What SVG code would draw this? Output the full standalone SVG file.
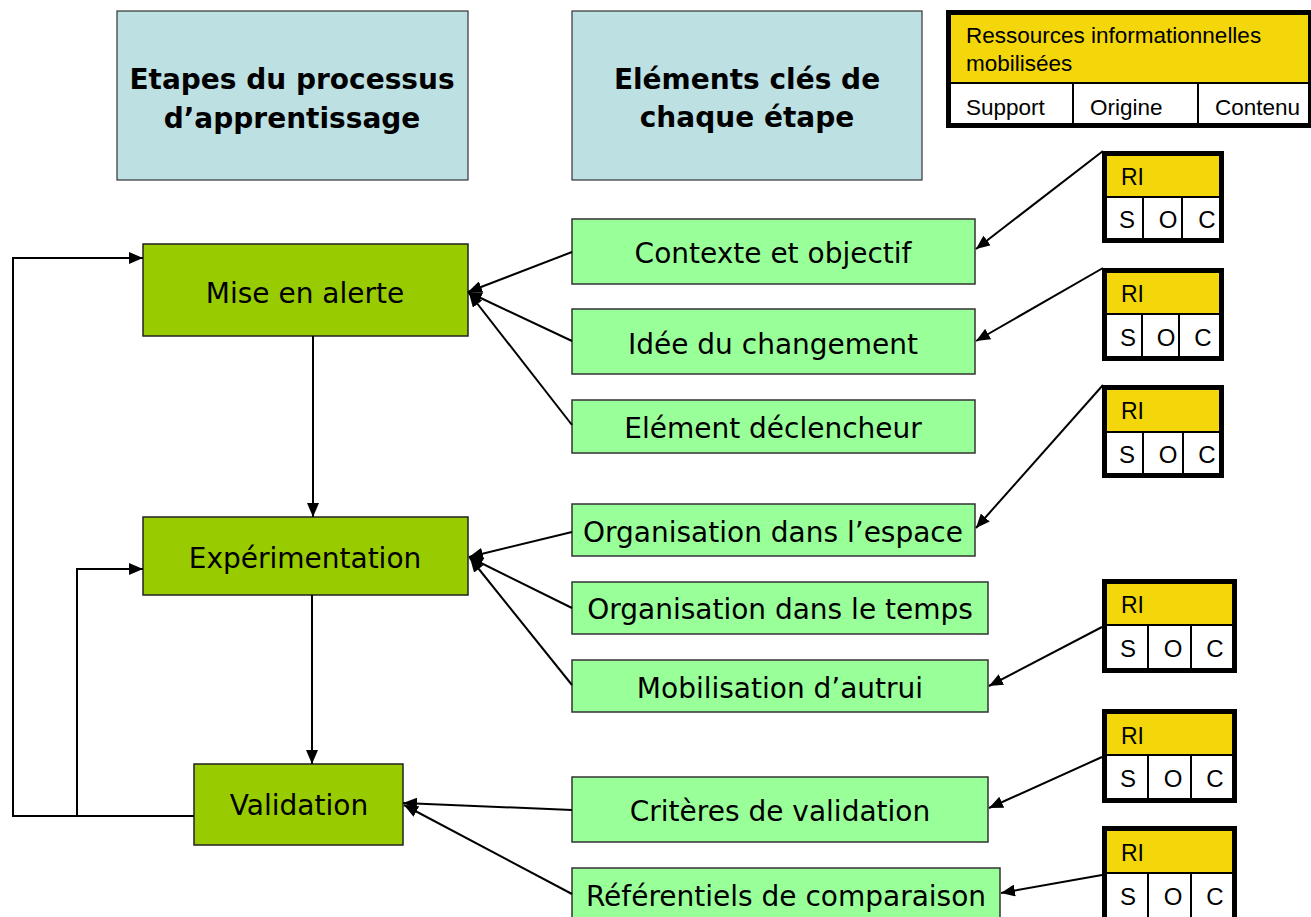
<svg xmlns="http://www.w3.org/2000/svg" width="1311" height="917" viewBox="0 0 1311 917">
<style>
.hdr{fill:#BDE0E3;stroke:#333;stroke-width:1.2}
.hdrt{font-family:"DejaVu Sans",sans-serif;font-weight:bold;font-size:28px;fill:#000;text-anchor:middle}
.stage{fill:#99CC00;stroke:#222;stroke-width:1.5}
.key{fill:#99FF99;stroke:#333;stroke-width:1.5}
.t{font-family:"DejaVu Sans",sans-serif;font-size:28px;fill:#000;text-anchor:middle}
.yl{fill:#F4D70A}
.cell{fill:#fff;stroke:#000;stroke-width:2}
.frame{fill:none;stroke:#000;stroke-width:5}
.lt{font-family:"Liberation Sans",Arial,sans-serif;font-size:22.5px;fill:#000}
.ri{font-family:"Liberation Sans",Arial,sans-serif;font-size:23px;fill:#000}
.ric{font-family:"Liberation Sans",Arial,sans-serif;font-size:24px;fill:#000;text-anchor:middle}
.c{fill:none;stroke:#000;stroke-width:2}
</style>
<defs>
<marker id="ah" viewBox="0 0 14 12" refX="14" refY="6" markerWidth="14" markerHeight="12" markerUnits="userSpaceOnUse" orient="auto">
<path d="M0,0 L14,6 L0,12 Z" fill="#000"/>
</marker>
</defs>
<rect width="1311" height="917" fill="#fff"/>

<g id="header1"><rect class="hdr" x="117" y="11" width="351" height="169"/>
<text class="hdrt" x="292" y="89">Etapes du processus</text>
<text class="hdrt" x="292" y="128">d’apprentissage</text></g>
<g id="header2"><rect class="hdr" x="572" y="11" width="350" height="169"/>
<text class="hdrt" x="747" y="89">Eléments clés de</text>
<text class="hdrt" x="747" y="127">chaque étape</text></g>

<g id="legend">
<rect class="yl" x="948" y="12" width="361" height="71"/>
<rect class="cell" x="948" y="83" width="125" height="42"/>
<rect class="cell" x="1073" y="83" width="125" height="42"/>
<rect class="cell" x="1198" y="83" width="111" height="42"/>
<rect class="frame" x="948.5" y="12.5" width="362" height="113"/>
<text class="lt" x="966" y="43">Ressources informationnelles</text>
<text class="lt" x="966" y="71">mobilisées</text>
<text class="lt" x="966" y="115">Support</text>
<text class="lt" x="1090" y="115">Origine</text>
<text class="lt" x="1215" y="115">Contenu</text>
</g>

<g id="stage-alerte"><rect class="stage" x="143" y="244" width="325" height="92"/><text class="t" x="305" y="303">Mise en alerte</text></g>
<g id="stage-exp"><rect class="stage" x="143" y="517" width="325" height="78"/><text class="t" x="305" y="568">Expérimentation</text></g>
<g id="stage-valid"><rect class="stage" x="194" y="764" width="209" height="81"/><text class="t" x="299" y="815">Validation</text></g>

<g id="key1"><rect class="key" x="572" y="219" width="403" height="65"/><text class="t" x="773" y="263">Contexte et objectif</text></g>
<g id="key2"><rect class="key" x="572" y="309" width="403" height="65"/><text class="t" x="773" y="354">Idée du changement</text></g>
<g id="key3"><rect class="key" x="572" y="400" width="403" height="53"/><text class="t" x="773" y="438">Elément déclencheur</text></g>
<g id="key4"><rect class="key" x="572" y="504" width="403" height="52"/><text class="t" x="773" y="542">Organisation dans l’espace</text></g>
<g id="key5"><rect class="key" x="572" y="582" width="416" height="52"/><text class="t" x="780" y="619">Organisation dans le temps</text></g>
<g id="key6"><rect class="key" x="572" y="660" width="416" height="52"/><text class="t" x="780" y="698">Mobilisation d’autrui</text></g>
<g id="key7"><rect class="key" x="572" y="777" width="416" height="65"/><text class="t" x="780" y="821">Critères de validation</text></g>
<g id="key8"><rect class="key" x="572" y="868" width="428" height="55"/><text class="t" x="786" y="906">Référentiels de comparaison</text></g>

<g id="ri1">
<rect class="yl" x="1105" y="154" width="117" height="43"/>
<rect class="cell" x="1105" y="197" width="38" height="43"/><rect class="cell" x="1143" y="197" width="39" height="43"/><rect class="cell" x="1182" y="197" width="40" height="43"/>
<rect class="frame" x="1104.5" y="153.5" width="117" height="87"/>
<text class="ri" x="1121" y="185">RI</text>
<text class="ric" x="1127" y="228">S</text><text class="ric" x="1168" y="228">O</text><text class="ric" x="1207" y="228">C</text>
</g>
<g id="ri2">
<rect class="yl" x="1105" y="271" width="117" height="43"/>
<rect class="cell" x="1105" y="314" width="37" height="44"/><rect class="cell" x="1142" y="314" width="37" height="44"/><rect class="cell" x="1179" y="314" width="43" height="44"/>
<rect class="frame" x="1104.5" y="270.5" width="117" height="88"/>
<text class="ri" x="1121" y="302">RI</text>
<text class="ric" x="1128" y="346">S</text><text class="ric" x="1166" y="346">O</text><text class="ric" x="1203" y="346">C</text>
</g>
<g id="ri3">
<rect class="yl" x="1105" y="388" width="117" height="44"/>
<rect class="cell" x="1105" y="432" width="38" height="43"/><rect class="cell" x="1143" y="432" width="40" height="43"/><rect class="cell" x="1183" y="432" width="39" height="43"/>
<rect class="frame" x="1104.5" y="387.5" width="117" height="88"/>
<text class="ri" x="1121" y="419">RI</text>
<text class="ric" x="1127" y="463">S</text><text class="ric" x="1168" y="463">O</text><text class="ric" x="1207" y="463">C</text>
</g>
<g id="ri4">
<rect class="yl" x="1105" y="582" width="130" height="43"/>
<rect class="cell" x="1105" y="625" width="43" height="45"/><rect class="cell" x="1148" y="625" width="43" height="45"/><rect class="cell" x="1191" y="625" width="44" height="45"/>
<rect class="frame" x="1104.5" y="581.5" width="130" height="89"/>
<text class="ri" x="1121" y="613">RI</text>
<text class="ric" x="1128" y="657">S</text><text class="ric" x="1173" y="657">O</text><text class="ric" x="1215" y="657">C</text>
</g>
<g id="ri5">
<rect class="yl" x="1105" y="712" width="130" height="43"/>
<rect class="cell" x="1105" y="755" width="43" height="45"/><rect class="cell" x="1148" y="755" width="43" height="45"/><rect class="cell" x="1191" y="755" width="44" height="45"/>
<rect class="frame" x="1104.5" y="711.5" width="130" height="89"/>
<text class="ri" x="1121" y="744">RI</text>
<text class="ric" x="1128" y="787">S</text><text class="ric" x="1173" y="787">O</text><text class="ric" x="1215" y="787">C</text>
</g>
<g id="ri6">
<rect class="yl" x="1105" y="829" width="130" height="44"/>
<rect class="cell" x="1105" y="873" width="43" height="46"/><rect class="cell" x="1148" y="873" width="43" height="46"/><rect class="cell" x="1191" y="873" width="44" height="46"/>
<rect class="frame" x="1104.5" y="828.5" width="130" height="95"/>
<text class="ri" x="1121" y="861">RI</text>
<text class="ric" x="1128" y="905">S</text><text class="ric" x="1173" y="905">O</text><text class="ric" x="1215" y="905">C</text>
</g>

<g id="connectors">
<line class="c" x1="1103" y1="151" x2="976" y2="249" marker-end="url(#ah)"/>
<line class="c" x1="1103" y1="268" x2="976" y2="341" marker-end="url(#ah)"/>
<line class="c" x1="1103" y1="385" x2="976" y2="528" marker-end="url(#ah)"/>
<line class="c" x1="1102" y1="627" x2="989" y2="686" marker-end="url(#ah)"/>
<line class="c" x1="1102" y1="757" x2="989" y2="808" marker-end="url(#ah)"/>
<line class="c" x1="1102" y1="875" x2="1001" y2="893" marker-end="url(#ah)"/>

<line class="c" x1="572" y1="252" x2="468" y2="292" marker-end="url(#ah)"/>
<line class="c" x1="572" y1="341" x2="468" y2="292" marker-end="url(#ah)"/>
<line class="c" x1="572" y1="425" x2="469" y2="293" marker-end="url(#ah)"/>

<line class="c" x1="572" y1="532" x2="469" y2="557" marker-end="url(#ah)"/>
<line class="c" x1="572" y1="608" x2="469" y2="557" marker-end="url(#ah)"/>
<line class="c" x1="572" y1="685" x2="470" y2="558" marker-end="url(#ah)"/>

<line class="c" x1="572" y1="810" x2="403" y2="803" marker-end="url(#ah)"/>
<line class="c" x1="572" y1="894" x2="404" y2="805" marker-end="url(#ah)"/>

<line class="c" x1="313" y1="336" x2="313" y2="517" marker-end="url(#ah)"/>
<line class="c" x1="312" y1="595" x2="312" y2="764" marker-end="url(#ah)"/>

<polyline class="c" points="194,816 13,816 13,258 143,258" marker-end="url(#ah)"/>
<polyline class="c" points="77,816 77,569 143,569" marker-end="url(#ah)"/>
</g>
</svg>
